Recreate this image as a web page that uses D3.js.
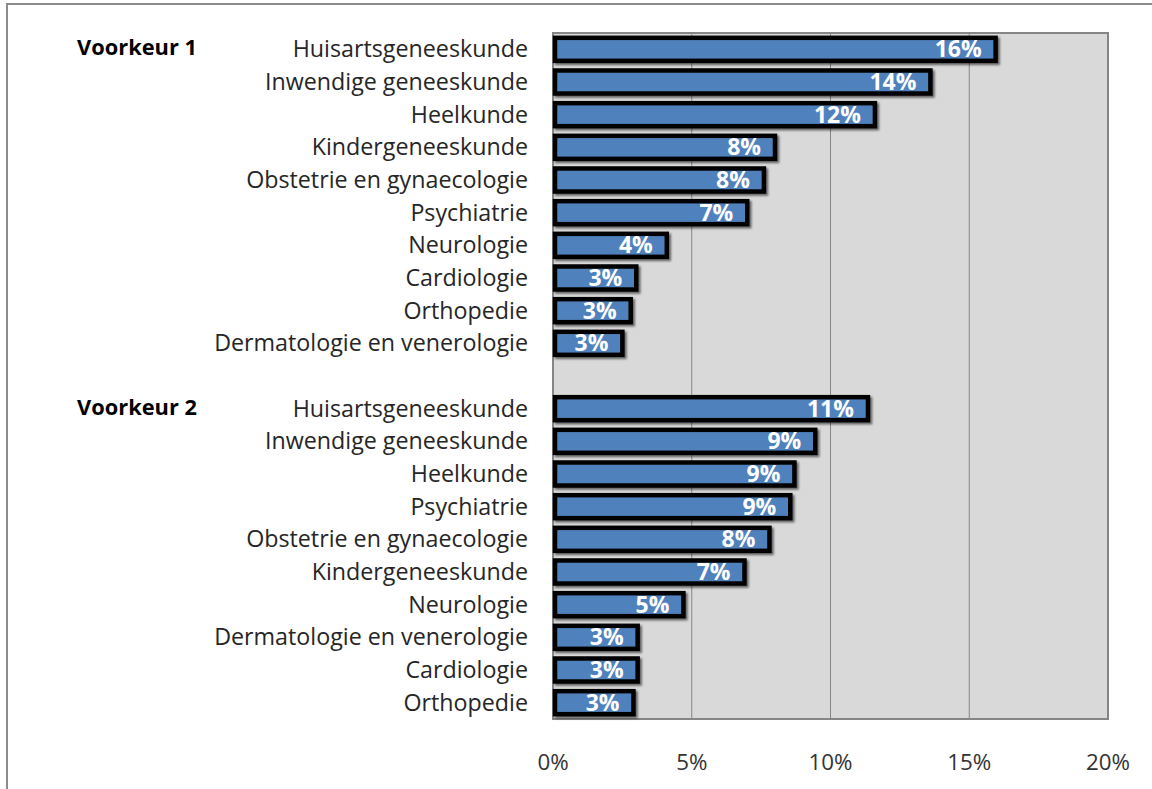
<!DOCTYPE html>
<html>
<head>
<meta charset="utf-8">
<script src="https://cdn.jsdelivr.net/npm/d3@7"></script>
<style>
  body { margin: 0; background: #fff; }
  svg text { font-family: "Open Sans", Lato, sans-serif; }
</style>
</head>
<body>
<div id="chart"></div>
<script>
// Voorkeur 1
var cats1 = ["Huisartsgeneeskunde", "Inwendige geneeskunde", "Heelkunde", "Kindergeneeskunde",
    "Obstetrie en gynaecologie", "Psychiatrie", "Neurologie", "Cardiologie", "Orthopedie",
    "Dermatologie en venerologie"];
var vals1 = [15.95, 13.6, 11.6, 8.0, 7.6, 7.0, 4.1, 3.0, 2.8, 2.5];

// Voorkeur 2
var cats2 = ["Huisartsgeneeskunde", "Inwendige geneeskunde", "Heelkunde", "Psychiatrie",
    "Obstetrie en gynaecologie", "Kindergeneeskunde", "Neurologie", "Dermatologie en venerologie",
    "Cardiologie", "Orthopedie"];
var vals2 = [11.35, 9.45, 8.7, 8.55, 7.8, 6.9, 4.7, 3.05, 3.05, 2.9];

var groups = ["Voorkeur 1", "Voorkeur 2"];
var ticks = [0, 5, 10, 15, 20];

function init() {
    var width = 1152;
    var height = 789;
    var left = 553, right = 1108, top = 33, bottom = 719;

    // rows: group 1, one empty slot, group 2
    var rows = [];
    cats1.forEach(function (c, i) { rows.push({ key: "a" + i, cat: c, val: vals1[i] }); });
    cats2.forEach(function (c, i) { rows.push({ key: "b" + i, cat: c, val: vals2[i] }); });
    var keys = cats1.map(function (c, i) { return "a" + i; })
        .concat(["gap"])
        .concat(cats2.map(function (c, i) { return "b" + i; }));

    var x = d3.scaleLinear().domain([0, 20]).range([left, right]);
    var y = d3.scaleBand().domain(keys).range([top, bottom]);

    var svg = d3.select("#chart").append("svg")
        .attr("width", width)
        .attr("height", height);

    // scale a text selection so that a reference string gets a target width
    function fitFont(sel, sample, target, base) {
        var t = svg.append("text").attr("font-size", base)
            .attr("font-weight", sel.attr("font-weight"))
            .text(sample);
        var w = t.node().getComputedTextLength();
        t.remove();
        sel.attr("font-size", base * target / w);
    }

    var defs = svg.append("defs");
    var f = defs.append("filter").attr("id", "shadow")
        .attr("x", "-10%").attr("y", "-30%").attr("width", "130%").attr("height", "180%");
    f.append("feDropShadow")
        .attr("dx", 2).attr("dy", 2)
        .attr("stdDeviation", 1.2)
        .attr("flood-color", "#000")
        .attr("flood-opacity", 0.55);

    // outer chart border (cropped at right/bottom)
    svg.append("rect")
        .attr("x", 7).attr("y", 4)
        .attr("width", width + 20).attr("height", height + 20)
        .attr("fill", "none")
        .attr("stroke", "#8c8c8c")
        .attr("stroke-width", 2);

    // plot area
    svg.append("rect")
        .attr("x", left).attr("y", top)
        .attr("width", right - left).attr("height", bottom - top)
        .attr("fill", "#d9d9d9");

    // gridlines
    svg.selectAll(".grid")
        .data(ticks.filter(function (t) { return t > 0 && t < 20; }))
        .enter().append("line")
        .attr("class", "grid")
        .attr("x1", function (d) { return x(d); })
        .attr("x2", function (d) { return x(d); })
        .attr("y1", top).attr("y2", bottom)
        .attr("stroke", "#868686")
        .attr("stroke-width", 1);

    svg.append("rect")
        .attr("x", left).attr("y", top)
        .attr("width", right - left).attr("height", bottom - top)
        .attr("fill", "none")
        .attr("stroke", "#868686")
        .attr("stroke-width", 2);

    // x axis labels
    var tl = svg.selectAll(".tick-label")
        .data(ticks)
        .enter().append("text")
        .attr("class", "tick-label")
        .attr("x", function (d) { return x(d); })
        .attr("y", 770)
        .attr("text-anchor", "middle")
        .attr("fill", "#333")
        .text(function (d) { return d + "%"; });
    fitFont(tl, "20%", 44, 20);

    var barH = 23;

    // bars
    svg.selectAll(".bar")
        .data(rows)
        .enter().append("rect")
        .attr("class", "bar")
        .attr("x", x(0) + 2)
        .attr("y", function (d) { return y(d.key) + y.bandwidth() / 2 - barH / 2; })
        .attr("width", function (d) { return x(d.val) - x(0) - 2; })
        .attr("height", barH)
        .attr("fill", "#4f81bd")
        .attr("stroke", "#000")
        .attr("stroke-width", 4.5)
        .attr("filter", "url(#shadow)");

    // value labels
    var vl = svg.selectAll(".val")
        .data(rows)
        .enter().append("text")
        .attr("class", "val")
        .attr("x", function (d) { return x(d.val) - 14; })
        .attr("y", function (d) { return y(d.key) + y.bandwidth() / 2 + 8; })
        .attr("text-anchor", "end")
        .attr("font-weight", "bold")
        .attr("fill", "#fff")
        .text(function (d) { return Math.round(d.val) + "%"; });
    fitFont(vl, "16%", 47, 20);

    // category labels
    var cl = svg.selectAll(".cat")
        .data(rows)
        .enter().append("text")
        .attr("class", "cat")
        .attr("x", 528)
        .attr("y", function (d) { return y(d.key) + y.bandwidth() / 2 + 8; })
        .attr("text-anchor", "end")
        .attr("fill", "#262626")
        .text(function (d) { return d.cat; });
    fitFont(cl, "Dermatologie en venerologie", 314, 20);

    // group labels
    var gl = svg.selectAll(".group")
        .data(groups)
        .enter().append("text")
        .attr("class", "group")
        .attr("x", 77)
        .attr("y", function (d, i) { return y(i === 0 ? "a0" : "b0") + y.bandwidth() / 2 + 6; })
        .attr("font-weight", "bold")
        .attr("fill", "#000")
        .text(function (d) { return d; });
    fitFont(gl, "Voorkeur 1", 120, 20);
}

window.onload = init;
</script>
</body>
</html>
